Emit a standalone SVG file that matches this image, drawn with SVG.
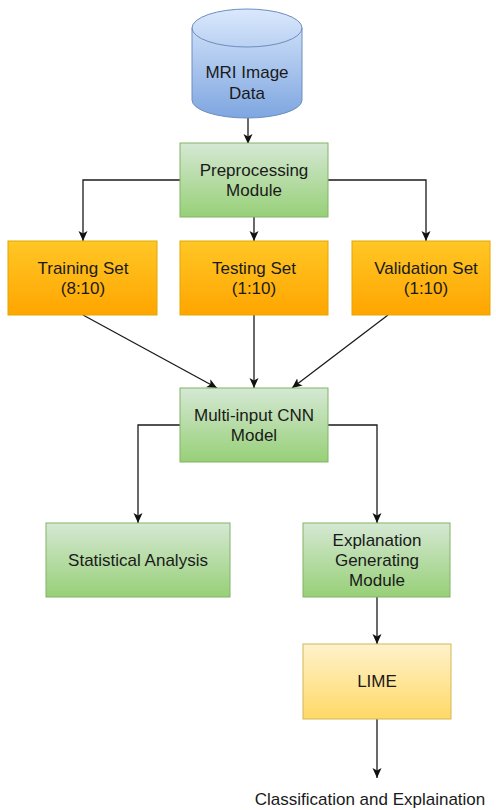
<svg xmlns="http://www.w3.org/2000/svg" width="496" height="810" viewBox="0 0 496 810">
<defs>
<linearGradient id="gGreen" x1="0" y1="0" x2="0" y2="1"><stop offset="0" stop-color="#d5e8d4"/><stop offset="1" stop-color="#97d077"/></linearGradient>
<linearGradient id="gOrange" x1="0" y1="0" x2="0" y2="1"><stop offset="0" stop-color="#ffc726"/><stop offset="1" stop-color="#ffa500"/></linearGradient>
<linearGradient id="gYellow" x1="0" y1="0" x2="0" y2="1"><stop offset="0" stop-color="#fff2cc"/><stop offset="1" stop-color="#ffd966"/></linearGradient>
<linearGradient id="gBlue" x1="0" y1="0" x2="0" y2="1"><stop offset="0" stop-color="#dae8fc"/><stop offset="1" stop-color="#7ea6e0"/></linearGradient>
<marker id="arr" markerUnits="userSpaceOnUse" markerWidth="12" markerHeight="10" refX="10" refY="4.5" orient="auto"><path d="M0,0 L10,4.5 L0,9 L2.5,4.5 z" fill="#111"/></marker>
</defs>
<style>
text{font-family:"Liberation Sans",Arial,Helvetica,sans-serif;font-size:17px;fill:#1a1a1a;text-anchor:middle}
.green{fill:url(#gGreen);stroke:#82b366;stroke-width:1}
.orange{fill:url(#gOrange);stroke:#e0a800;stroke-width:1}
.yellow{fill:url(#gYellow);stroke:#d6b656;stroke-width:1}
.edge{fill:none;stroke:#1a1a1a;stroke-width:1.3;marker-end:url(#arr)}
</style>
<rect width="496" height="810" fill="#ffffff"/>
<g id="connectors">
<path class="edge" d="M248,118 L248,144"/>
<path class="edge" d="M180,180 L83,180 L83,241"/>
<path class="edge" d="M254,217 L254,241"/>
<path class="edge" d="M328,180 L426,180 L426,241"/>
<path class="edge" d="M83,315 L217,388"/>
<path class="edge" d="M254,315 L254,388"/>
<path class="edge" d="M388,315 L292,388"/>
<path class="edge" d="M180,425 L138,425 L138,523"/>
<path class="edge" d="M328,425 L377,425 L377,523"/>
<path class="edge" d="M377,597 L377,644"/>
<path class="edge" d="M377,719 L377,778"/>
</g>
<g id="mri">
<path d="M192,28 A55,19 0 0 1 302,28 L302,100 A55,18 0 0 1 192,100 Z" fill="url(#gBlue)" stroke="#6c8ebf" stroke-width="1"/>
<path d="M192,28 A55,19 0 0 0 302,28" fill="none" stroke="#6c8ebf" stroke-width="1"/>
<text x="247" y="78">MRI Image</text>
<text x="247" y="99">Data</text>
</g>
<g id="preprocessing">
<rect class="green" x="180" y="143" width="148" height="74"/>
<text x="254" y="176">Preprocessing</text>
<text x="254" y="196">Module</text>
</g>
<g id="training">
<rect class="orange" x="8" y="241" width="149" height="74"/>
<text x="83" y="274">Training Set</text>
<text x="83" y="294">(8:10)</text>
</g>
<g id="testing">
<rect class="orange" x="180" y="241" width="148" height="74"/>
<text x="254" y="274">Testing Set</text>
<text x="254" y="294">(1:10)</text>
</g>
<g id="validation">
<rect class="orange" x="352" y="241" width="138" height="74"/>
<text x="426" y="274">Validation Set</text>
<text x="426" y="294">(1:10)</text>
</g>
<g id="cnn">
<rect class="green" x="180" y="388" width="148" height="74"/>
<text x="254" y="421">Multi-input CNN</text>
<text x="254" y="441">Model</text>
</g>
<g id="statistical">
<rect class="green" x="46" y="523" width="184" height="74"/>
<text x="138" y="566">Statistical Analysis</text>
</g>
<g id="explanation">
<rect class="green" x="303" y="523" width="147" height="74"/>
<text x="377" y="546">Explanation</text>
<text x="377" y="566">Generating</text>
<text x="377" y="586">Module</text>
</g>
<g id="lime">
<rect class="yellow" x="303" y="644" width="148" height="75"/>
<text x="377" y="687">LIME</text>
</g>
<g id="output">
<text x="370" y="805">Classification and Explaination</text>
</g>
</svg>
